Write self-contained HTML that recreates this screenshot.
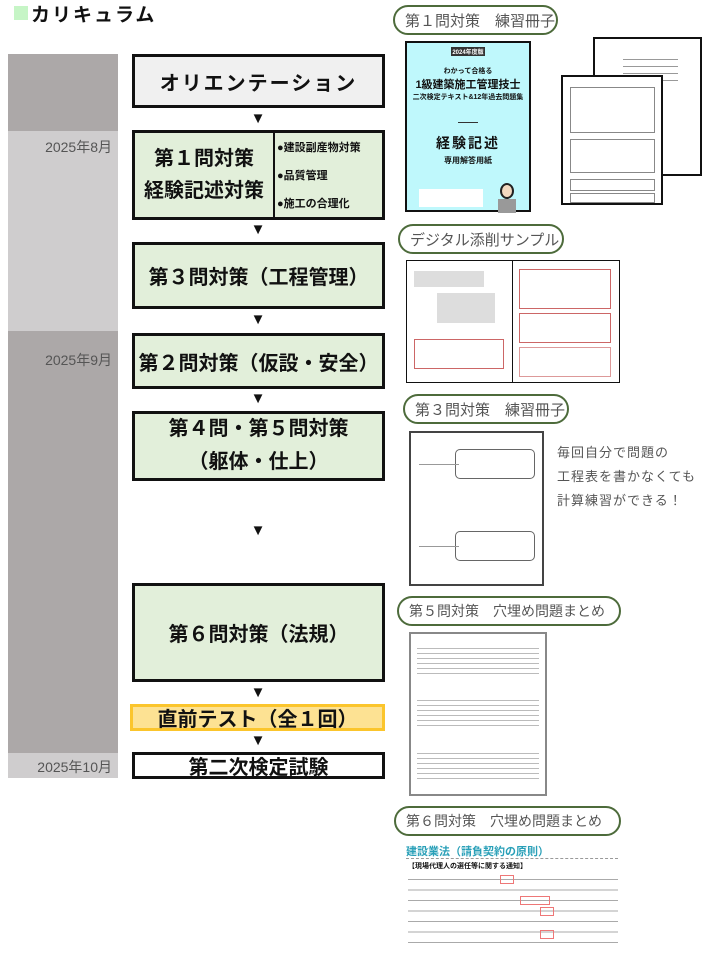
<!DOCTYPE html>
<html><head><meta charset="utf-8"><style>
*{margin:0;padding:0;box-sizing:border-box}
body{width:710px;height:954px;background:#fff;position:relative;overflow:hidden;font-family:"Liberation Sans","Noto Sans CJK JP",sans-serif;color:#111}
.a{position:absolute}
.bar{position:absolute;left:8px;width:110px}
.lbl{position:absolute;left:8px;width:104px;text-align:right;font-size:14px;color:#555}
.box{position:absolute;left:132px;width:253px;border:3px solid #111;background:#e2efda;display:flex;align-items:center;justify-content:center;text-align:center;font-weight:bold;font-size:20px}
.arr{position:absolute;left:250px;font-size:15px;width:16px;text-align:center;line-height:14px}
.pill{position:absolute;height:30px;border:2px solid #4d6b3b;border-radius:16px;font-size:15px;color:#555;display:flex;align-items:center;padding-left:10px;white-space:nowrap;overflow:hidden}
.pg{position:absolute;background:#fff;border:2px solid #111}
.ln{position:absolute;height:1px;background:#999}
</style></head><body>
<div class="a" style="left:14px;top:6px;width:14px;height:14px;background:#c6f5c6"></div>
<div class="a" style="left:31px;top:0px;font-size:19px;font-weight:bold;letter-spacing:2px">カリキュラム</div>

<div class="bar" style="top:54px;height:77px;background:#aca8a8"></div>
<div class="bar" style="top:131px;height:200px;background:#cfcdce"></div>
<div class="bar" style="top:331px;height:422px;background:#aca8a8"></div>
<div class="bar" style="top:753px;height:25px;background:#cfcdce"></div>
<div class="lbl" style="top:137px">2025年8月</div>
<div class="lbl" style="top:350px">2025年9月</div>
<div class="lbl" style="top:757px">2025年10月</div>

<div class="box" style="top:54px;height:54px;background:#f0f0f0;letter-spacing:2px">オリエンテーション</div>
<div class="arr" style="top:112px">▼</div>
<div class="box" style="top:130px;height:90px;justify-content:flex-start">
 <div style="width:138px;line-height:32px">第１問対策<br>経験記述対策</div>
 <div style="position:absolute;left:138px;top:0;bottom:0;border-left:2px solid #111;width:110px;text-align:left;font-size:11px;padding-left:2px;line-height:28px;padding-top:1px">●建設副産物対策<br>●品質管理<br>●施工の合理化</div>
</div>
<div class="arr" style="top:223px">▼</div>
<div class="box" style="top:242px;height:67px">第３問対策（工程管理）</div>
<div class="arr" style="top:313px">▼</div>
<div class="box" style="top:333px;height:56px">第２問対策（仮設・安全）</div>
<div class="arr" style="top:392px">▼</div>
<div class="box" style="top:411px;height:70px;line-height:33px">第４問・第５問対策<br>（躯体・仕上）</div>
<div class="arr" style="top:524px">▼</div>
<div class="box" style="top:583px;height:99px">第６問対策（法規）</div>
<div class="arr" style="top:686px">▼</div>
<div class="box" style="top:704px;height:27px;left:130px;width:255px;background:#fde293;border-color:#fbc52c">直前テスト（全１回）</div>
<div class="arr" style="top:734px">▼</div>
<div class="box" style="top:752px;height:27px;background:#fff">第二次検定試験</div>

<div class="pill" style="left:393px;top:5px;width:165px">第１問対策　練習冊子</div>
<div class="pill" style="left:398px;top:224px;width:166px">デジタル添削サンプル</div>
<div class="pill" style="left:403px;top:394px;width:166px">第３問対策　練習冊子</div>
<div class="pill" style="left:397px;top:596px;width:224px;font-size:14px">第５問対策　穴埋め問題まとめ</div>
<div class="pill" style="left:394px;top:806px;width:227px;font-size:14px">第６問対策　穴埋め問題まとめ</div>

<!-- cover -->
<div class="pg" style="left:405px;top:41px;width:126px;height:171px;background:#bff8fc;text-align:center;font-weight:bold">
 <div style="margin:4px auto 0;width:34px;background:#333;color:#fff;font-size:6px;white-space:nowrap;overflow:hidden">2024年度版</div>
 <div style="font-size:7px;margin-top:10px">わかって合格る</div>
 <div style="font-size:11px">1級建築施工管理技士</div>
 <div style="font-size:7px">二次検定テキスト&amp;12年過去問題集</div>
 <div style="margin:20px auto 0;width:20px;height:1px;background:#333"></div>
 <div style="font-size:14px;margin-top:10px;letter-spacing:2px">経験記述</div>
 <div style="font-size:8px;margin-top:2px">専用解答用紙</div>
 <div style="position:absolute;left:12px;top:146px;width:64px;height:18px;background:#fff"></div>
 <div style="position:absolute;left:93px;top:140px;width:14px;height:16px;border-radius:50%;background:#f3d9c0;border:2px solid #222"></div>
 <div style="position:absolute;left:91px;top:156px;width:18px;height:14px;background:#999"></div>
</div>
<!-- worksheets -->
<div class="pg" style="left:593px;top:37px;width:109px;height:139px">
 <div class="ln" style="left:28px;top:20px;width:55px"></div><div class="ln" style="left:28px;top:27px;width:55px"></div><div class="ln" style="left:28px;top:34px;width:55px"></div><div class="ln" style="left:28px;top:41px;width:55px"></div>
</div>
<div class="pg" style="left:561px;top:75px;width:102px;height:130px">
 <div style="position:absolute;left:7px;top:10px;width:85px;height:46px;border:1px solid #888"></div>
 <div style="position:absolute;left:7px;top:62px;width:85px;height:34px;border:1px solid #888"></div>
 <div style="position:absolute;left:7px;top:102px;width:85px;height:12px;border:1px solid #888"></div>
 <div style="position:absolute;left:7px;top:116px;width:85px;height:10px;border:1px solid #888"></div>
</div>
<!-- digital sample -->
<div class="pg" style="left:406px;top:260px;width:214px;height:123px;border-width:1px">
 <div style="position:absolute;left:105px;top:0;bottom:0;width:1px;background:#111"></div>
 <div style="position:absolute;left:7px;top:10px;width:70px;height:16px;background:#ddd"></div>
 <div style="position:absolute;left:30px;top:32px;width:58px;height:30px;background:#ddd"></div>
 <div style="position:absolute;left:7px;top:78px;width:90px;height:30px;border:1px solid #c66"></div>
 <div style="position:absolute;left:112px;top:8px;width:92px;height:40px;border:1px solid #c66"></div>
 <div style="position:absolute;left:112px;top:52px;width:92px;height:30px;border:1px solid #c66"></div>
 <div style="position:absolute;left:112px;top:86px;width:92px;height:30px;border:1px solid #d99"></div>
</div>
<!-- gantt -->
<div class="pg" style="left:409px;top:431px;width:135px;height:155px;border-color:#444">
 <div style="position:absolute;left:44px;top:16px;width:80px;height:30px;border:1px solid #666;border-radius:5px"></div>
 <div style="position:absolute;left:44px;top:98px;width:80px;height:30px;border:1px solid #666;border-radius:5px"></div>
 <div class="ln" style="left:8px;top:31px;width:40px"></div><div class="ln" style="left:8px;top:113px;width:40px"></div>
</div>
<div class="a" style="left:557px;top:441px;font-size:13px;color:#555;line-height:24px;letter-spacing:1px">毎回自分で問題の<br>工程表を書かなくても<br>計算練習ができる！</div>
<!-- fill-in -->
<div class="pg" style="left:409px;top:632px;width:138px;height:164px;border-color:#888">
 <div style="position:absolute;left:6px;top:10px;width:122px;height:30px;background:repeating-linear-gradient(#fff 0 4px,#bbb 4px 5px)"></div>
 <div style="position:absolute;left:6px;top:62px;width:122px;height:30px;background:repeating-linear-gradient(#fff 0 4px,#bbb 4px 5px)"></div>
 <div style="position:absolute;left:6px;top:115px;width:122px;height:30px;background:repeating-linear-gradient(#fff 0 4px,#bbb 4px 5px)"></div>
</div>
<!-- law -->
<div class="a" style="left:406px;top:843px;font-size:11px;font-weight:bold;color:#2aa0b8">建設業法（請負契約の原則）</div>
<div class="a" style="left:406px;top:858px;width:212px;border-top:1px dashed #999"></div>
<div class="a" style="left:408px;top:861px;font-size:7px;font-weight:bold">【現場代理人の選任等に関する通知】</div>
<div class="a" style="left:408px;top:872px;width:210px;height:76px;background:repeating-linear-gradient(#fff 0 7px,#aaa 7px 8px,#fff 8px 10.5px)"></div>
<div class="a" style="left:500px;top:875px;width:14px;height:9px;border:1px solid #e77"></div>
<div class="a" style="left:520px;top:896px;width:30px;height:9px;border:1px solid #e77"></div>
<div class="a" style="left:540px;top:907px;width:14px;height:9px;border:1px solid #e77"></div>
<div class="a" style="left:540px;top:930px;width:14px;height:9px;border:1px solid #e77"></div>
</body></html>
